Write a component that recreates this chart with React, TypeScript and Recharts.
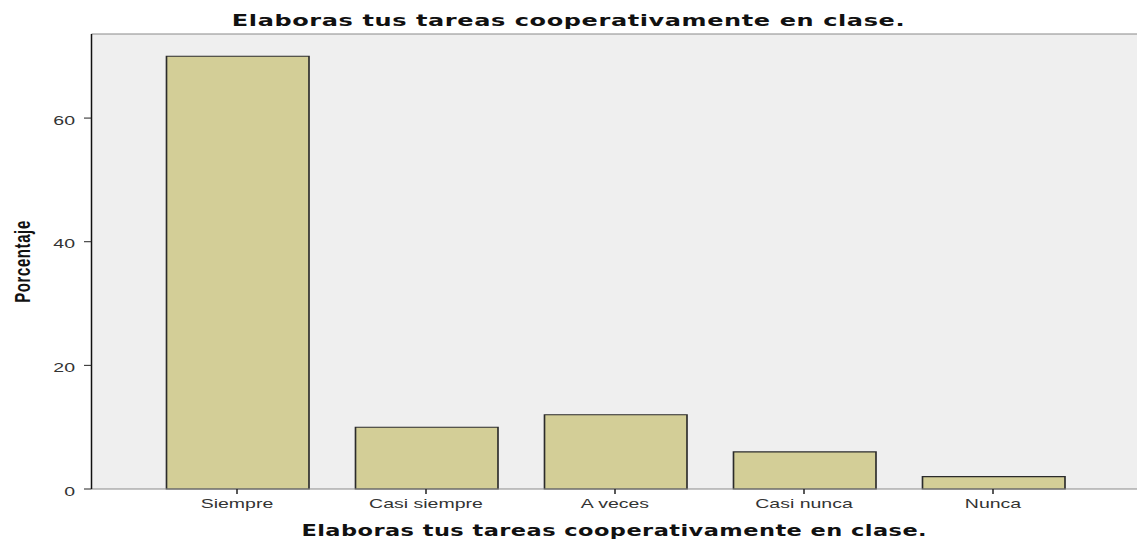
import React from 'react';
import { BarChart, Bar, XAxis, YAxis, CartesianGrid, ReferenceLine, Label } from 'recharts';

const categories = ['Siempre', 'Casi siempre', 'A veces', 'Casi nunca', 'Nunca'];
const percentages = [70, 10, 12, 6, 2];
const yTicks = [0, 20, 40, 60];
const chartTitle = 'Elaboras tus tareas cooperativamente en clase.';
const xAxisTitle = 'Elaboras tus tareas cooperativamente en clase.';
const yAxisTitle = 'Porcentaje';
const Y_MAX = 73.6;

const data = categories.map((c, i) => ({ category: c, value: percentages[i] }));

const FONT = '"Liberation Sans", Arial, Helvetica, sans-serif';
const TITLE_FONT = '"DejaVu Sans", Verdana, sans-serif';
const STRETCH = 1.5;
const W = 758;
const H = 542;

const YLabel = (props: any) => {
  const vb = props.viewBox || { x: 0, y: 34, width: 61, height: 455 };
  const cx = vb.x + 20;
  const cy = vb.y + vb.height / 2;
  return (
    <text
      x={cx}
      y={cy}
      transform={`rotate(-90 ${cx} ${cy})`}
      textAnchor="middle"
      fontFamily={FONT}
      fontWeight="bold"
      fontSize={15}
      letterSpacing={0.6}
      fill="#111"
    >
      {yAxisTitle}
    </text>
  );
};

export default function App() {
  return (
    <div style={{ position: 'absolute', left: 0, top: 0, width: W * STRETCH, height: H, overflow: 'hidden', background: '#fff' }}>
      <div style={{ position: 'relative', width: W, height: H, transform: `scaleX(${STRETCH})`, transformOrigin: '0 0' }}>
        <div
          style={{
            position: 'absolute',
            left: 0,
            width: W,
            top: 13,
            textAlign: 'center',
            fontFamily: TITLE_FONT,
            fontWeight: 'bold',
            fontSize: 16,
            lineHeight: '16px',
            letterSpacing: '0.4px',
            color: '#111',
            zIndex: 2,
          }}
        >
          {chartTitle}
        </div>
        <BarChart
          width={W}
          height={H}
          data={data}
          margin={{ top: 34, right: 0, bottom: 0, left: 0 }}
          barSize={95}
        >
          <CartesianGrid horizontal={false} vertical={false} fill="#efefef" />
          <XAxis
            dataKey="category"
            height={53}
            padding={{ left: 34, right: 33 }}
            tick={{ fontSize: 13, fill: '#333', fontFamily: FONT }}
            tickSize={5}
            tickMargin={5}
            tickLine={{ stroke: '#222', strokeWidth: 1 }}
            axisLine={{ stroke: '#8a8a8a', strokeWidth: 1.2 }}
          >
            <Label
              value={xAxisTitle}
              position="insideBottom"
              offset={6}
              style={{ fontSize: 15, fontWeight: 'bold', fontFamily: TITLE_FONT, fill: '#111', letterSpacing: '0.3px' }}
            />
          </XAxis>
          <YAxis
            width={61}
            domain={[0, Y_MAX]}
            ticks={yTicks}
            tick={{ fontSize: 13, fill: '#333', fontFamily: FONT, dy: 2 }}
            tickSize={5}
            tickMargin={6}
            tickLine={{ stroke: '#222', strokeWidth: 1 }}
            axisLine={{ stroke: '#111', strokeWidth: 1 }}
            label={<YLabel />}
          />
          <ReferenceLine y={Y_MAX} stroke="#8a8a8a" strokeWidth={1.2} />
          <Bar dataKey="value" fill="#d3ce97" stroke="#2b2b2b" strokeWidth={1.1} isAnimationActive={false} />
        </BarChart>
      </div>
    </div>
  );
}
